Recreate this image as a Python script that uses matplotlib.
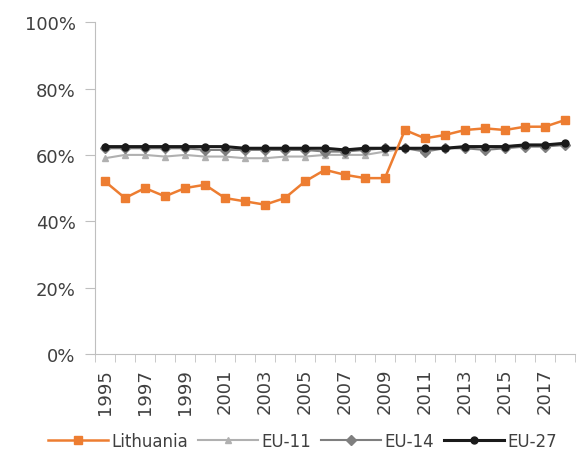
import matplotlib
matplotlib.use("Agg")
import matplotlib.pyplot as plt
import numpy as np

years = list(range(1995, 2019))
lithuania = [52, 47, 50, 47.5, 50, 51, 47, 46, 45, 47, 52, 55.5, 54, 53, 53,
             67.5, 65, 66, 67.5, 68, 67.5, 68.5, 68.5, 70.5]
eu11 = [59, 60, 60, 59.5, 60, 59.5, 59.5, 59, 59, 59.5, 59.5, 60, 60, 60, 61,
        62, 62, 62, 62.5, 62.5, 62.5, 63, 63, 63.5]
eu14 = [62, 62, 62, 62, 62, 61.5, 61.5, 61.5, 61.5, 61.5, 61.5, 61, 61, 61.5, 62,
        62, 61, 62, 62, 61.5, 62, 62.5, 62.5, 63]
eu27 = [62.5, 62.5, 62.5, 62.5, 62.5, 62.5, 62.5, 62, 62, 62, 62, 62, 61.5, 62, 62,
        62, 62, 62, 62.5, 62.5, 62.5, 63, 63, 63.5]
yticks = [0, 20, 40, 60, 80, 100]

plt.rcParams['font.family'] = ['DejaVu Sans']
fig = plt.figure(figsize=(5.81, 4.64), dpi=100)
ax = fig.add_axes([0.1635, 0.235, 0.826, 0.715])

x = np.arange(len(years))
ax.plot(x, eu11, color='#b0b0b0', lw=1.5, marker='^', ms=5, label='EU-11', zorder=2)
ax.plot(x, eu14, color='#7f7f7f', lw=1.5, marker='D', ms=5, label='EU-14', zorder=3)
ax.plot(x, eu27, color='#1a1a1a', lw=2.2, marker='o', ms=5, label='EU-27', zorder=4)
ax.plot(x, lithuania, color='#ed7d31', lw=1.8, marker='s', ms=6, label='Lithuania', zorder=5)

ax.set_xlim(-0.5, len(years) - 0.5)
ax.set_ylim(0, 100)
ax.set_yticks(yticks)
ax.set_yticklabels([f"{v}%" for v in yticks])
ax.set_xticks(x[::2])
ax.set_xticklabels([str(y) for y in years[::2]], rotation=90)
ax.set_xticks(np.arange(len(years) + 1) - 0.5, minor=True)
ax.tick_params(axis='x', which='major', length=0, pad=10, labelsize=13, colors='#404040')
ax.tick_params(axis='x', which='minor', length=6, color='#bfbfbf')
ax.tick_params(axis='y', length=7, color='#bfbfbf', labelsize=13, labelcolor='#404040', pad=7)
for s in ['top', 'right']:
    ax.spines[s].set_visible(False)
for s in ['left', 'bottom']:
    ax.spines[s].set_color('#bfbfbf')

handles, labels = ax.get_legend_handles_labels()
order = [3, 0, 1, 2]
fig.legend([handles[i] for i in order], [labels[i] for i in order],
           loc='lower center', bbox_to_anchor=(0.52, -0.005), ncol=4, frameon=False,
           fontsize=12, handlelength=3.6, handletextpad=0.2, columnspacing=0.6,
           labelcolor='#404040')

fig.savefig('out.png', dpi=100)
